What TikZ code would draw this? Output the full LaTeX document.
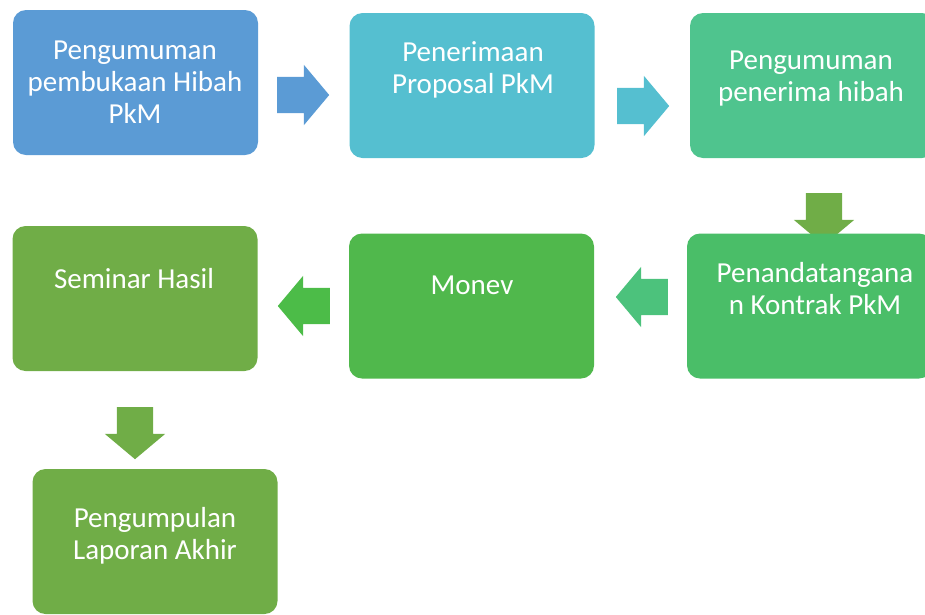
\documentclass[tikz,border=0pt]{standalone}
\usepackage{fontspec}
\setmainfont{Carlito}
\usetikzlibrary{shapes.arrows}

\definecolor{hblue}{RGB}{91,155,213}
\definecolor{hcyan}{RGB}{85,191,208}
\definecolor{hteal}{RGB}{79,196,142}
\definecolor{hsea}{RGB}{76,194,124}
\definecolor{hmint}{RGB}{74,190,104}
\definecolor{hgreen}{RGB}{80,184,76}
\definecolor{holive}{RGB}{112,173,71}

\begin{document}
\begin{tikzpicture}[x=1pt,y=-1pt,
  box/.style={rectangle,rounded corners=13pt,minimum width=245pt,minimum height=145pt,inner sep=0pt},
  lbl/.style={text=white,align=center,font=\fontsize{29}{32}\selectfont},
  blockarrow/.style={single arrow,single arrow head extend=12pt,single arrow tip angle=100,
    minimum height=52pt,inner xsep=0pt,inner ysep=18pt}]

\useasboundingbox (0,0) rectangle (925,614);

% arrows
\node[blockarrow,fill=hblue,anchor=tail] (ar1) at (277,95) {};
\node[blockarrow,fill=hcyan,anchor=tail] (ar2) at (617,106) {};
\node[blockarrow,fill=holive,rotate=-90,anchor=tail] (ar3) at (824,193) {};
\node[blockarrow,fill=hsea,rotate=180,anchor=tail] (ar4) at (668,297) {};
\node[blockarrow,fill=hgreen!95!green,rotate=180,anchor=tail] (ar5) at (330,306) {};
\node[blockarrow,fill=holive,rotate=-90,anchor=tail] (ar6) at (135,407) {};

% boxes
\node[box,fill=hblue] (umum) at (135.5,82.5) {};
\node[box,fill=hcyan] (terima) at (472,85.5) {};
\node[box,fill=hteal] (hibah) at (812.5,85.5) {};
\node[box,fill=hmint] (kontrak) at (809.5,306) {};
\node[box,fill=hgreen] (monev) at (471.5,306) {};
\node[box,fill=holive] (seminar) at (135,298.5) {};
\node[box,fill=holive] (laporan) at (155,541.5) {};

% labels
\node[lbl] (t1) at (135,82) {Pengumuman\\pembukaan Hibah\\PkM};
\node[lbl] (t2) at (473,70) {Penerimaan\\Proposal PkM};
\node[lbl] (t3) at (811,79) {Pengumuman\\penerima hibah};
\node[lbl] (t4) at (815,289) {Penandatangana\\n Kontrak PkM};
\node[lbl] (t5) at (472,285) {Monev};
\node[lbl] (t6) at (134,279) {Seminar Hasil};
\node[lbl] (t7) at (155,536) {Pengumpulan\\Laporan Akhir};

\end{tikzpicture}
\end{document}
